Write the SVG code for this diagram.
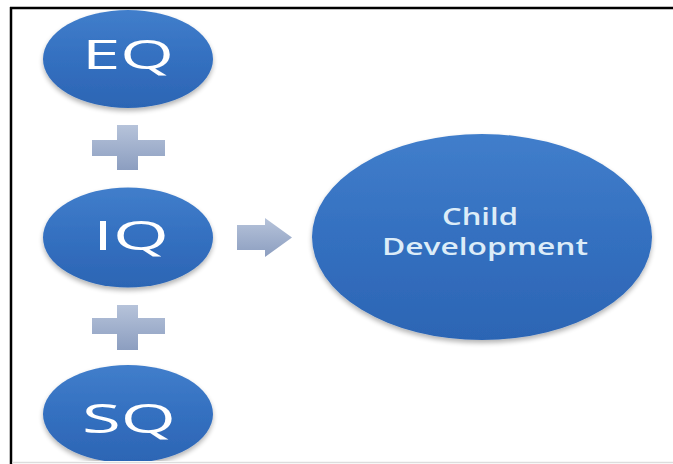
<svg xmlns="http://www.w3.org/2000/svg" width="673" height="464" viewBox="0 0 673 464">
  <defs>
    <linearGradient id="blueFill" x1="0" y1="0" x2="0" y2="1">
      <stop offset="0" stop-color="#417ecb"/>
      <stop offset="0.5" stop-color="#3470c0"/>
      <stop offset="1" stop-color="#2c65b4"/>
    </linearGradient>
    <linearGradient id="greyFill" x1="0" y1="0" x2="0" y2="1">
      <stop offset="0" stop-color="#b6c3da"/>
      <stop offset="1" stop-color="#8c9ec0"/>
    </linearGradient>
    <filter id="shadow" x="-10%" y="-10%" width="120%" height="130%">
      <feGaussianBlur in="SourceAlpha" stdDeviation="2.5"/>
      <feOffset dx="0" dy="3" result="b"/>
      <feComponentTransfer><feFuncA type="linear" slope="0.3"/></feComponentTransfer>
      <feMerge><feMergeNode/><feMergeNode in="SourceGraphic"/></feMerge>
    </filter>
    <clipPath id="frameClip">
      <rect x="12" y="9" width="661" height="452"/>
    </clipPath>
  </defs>
  <style>
    .bubble { fill: url(#blueFill); filter: url(#shadow); }
    .sym { fill: url(#greyFill); }
    .big { font-family: "Open Sans", "Noto Sans", sans-serif; font-size: 40px; fill: #ffffff; text-anchor: middle; }
    .small { font-family: "Open Sans", "Noto Sans", sans-serif; font-size: 23px; font-weight: 600; fill: #dcecf8; text-anchor: middle; }
  </style>

  <rect width="673" height="464" fill="#ffffff"/>

  <g clip-path="url(#frameClip)">
    <g id="eq">
      <ellipse class="bubble" cx="128" cy="59" rx="85" ry="49"/>
      <text class="big" x="128" y="69" textLength="92" lengthAdjust="spacingAndGlyphs">EQ</text>
    </g>
    <g id="iq">
      <ellipse class="bubble" cx="128" cy="237.5" rx="85" ry="50"/>
      <text class="big" x="131" y="250" textLength="76" lengthAdjust="spacingAndGlyphs">IQ</text>
    </g>
    <g id="sq">
      <ellipse class="bubble" cx="128" cy="414" rx="85" ry="49"/>
      <text class="big" x="129" y="433" textLength="94" lengthAdjust="spacingAndGlyphs">SQ</text>
    </g>
    <g id="child-development">
      <ellipse class="bubble" cx="482" cy="237" rx="170" ry="103"/>
      <text class="small" x="480" y="225" textLength="76" lengthAdjust="spacingAndGlyphs">Child</text>
      <text class="small" x="485" y="255" textLength="206" lengthAdjust="spacingAndGlyphs">Development</text>
    </g>

    <g id="connectors">
      <!-- plus between EQ and IQ -->
      <path class="sym" d="M117 125 H138 V140 H165 V156 H138 V170 H117 V156 H92 V140 H117 Z"/>
      <!-- plus between IQ and SQ -->
      <path class="sym" d="M117 305 H138 V318 H165 V334 H138 V350 H117 V334 H92 V318 H117 Z"/>
      <!-- arrow towards Child Development -->
      <path class="sym" d="M237 225 H265 V218 L292 237.5 L265 257 V250 H237 Z"/>
    </g>
  </g>

  <!-- frame -->
  <line x1="10" y1="8" x2="673" y2="8" stroke="#000" stroke-width="2.5"/>
  <line x1="11" y1="7" x2="11" y2="464" stroke="#000" stroke-width="2.5"/>
  <line x1="12" y1="462.5" x2="673" y2="462.5" stroke="#dddddd" stroke-width="1.5"/>
</svg>
